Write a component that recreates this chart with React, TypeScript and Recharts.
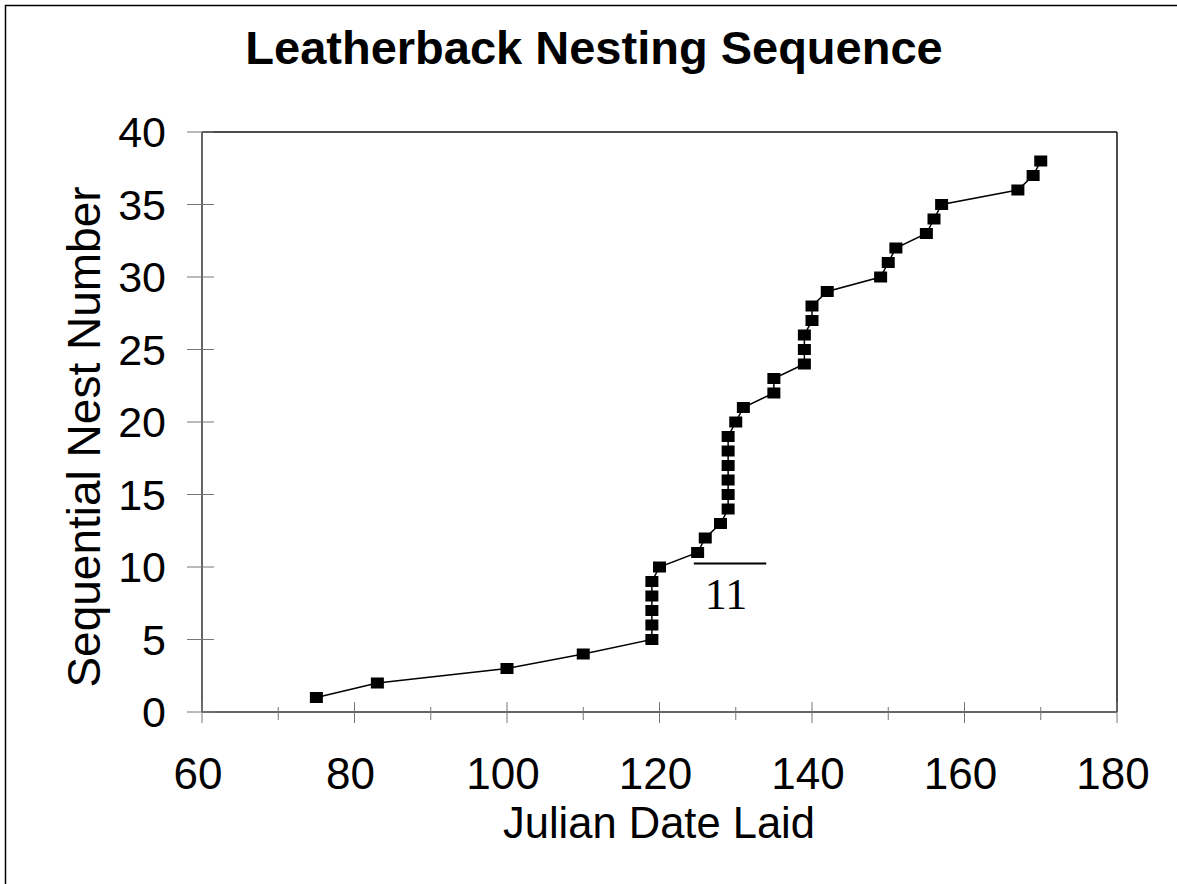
import React from 'react';
import { ScatterChart, Scatter, XAxis, YAxis, ReferenceLine } from 'recharts';

// Julian date each nest was laid, in nesting order
const julianDates = [
  75, 83, 100, 110, 119, 119, 119, 119, 119, 120,
  125, 126, 128, 129, 129, 129, 129, 129, 129, 130,
  131, 135, 135, 139, 139, 139, 140, 140, 142, 149,
  150, 151, 155, 156, 157, 167, 169, 170,
];

const nestNumbers = [
  1, 2, 3, 4, 5, 6, 7, 8, 9, 10,
  11, 12, 13, 14, 15, 16, 17, 18, 19, 20,
  21, 22, 23, 24, 25, 26, 27, 28, 29, 30,
  31, 32, 33, 34, 35, 36, 37, 38,
];

const xTicks = [60, 70, 80, 90, 100, 110, 120, 130, 140, 150, 160, 170, 180];
const yTicks = [0, 5, 10, 15, 20, 25, 30, 35, 40];

const FONT = '"Liberation Sans", Arial, sans-serif';

const data = julianDates.map((day, i) => ({ day, nest: nestNumbers[i] }));

const XTick = ({ x, y, payload }: any) => {
  const major = payload.value % 20 === 0;
  return (
    <g>
      <line x1={x} x2={x} y1={y - (major ? 10 : 5)} y2={y + (major ? 11 : 8)} stroke="#777" strokeWidth={1} />
      {major && (
        <text x={x - 4} y={y + 77} textAnchor="middle" fontSize={44} fontFamily={FONT} fill="#000">
          {payload.value}
        </text>
      )}
    </g>
  );
};

const YTick = ({ x, y, payload }: any) => (
  <g>
    <line x1={x - 15} x2={x + 12} y1={y} y2={y} stroke="#777" strokeWidth={1} />
    <text x={x - 36} y={y + 15} textAnchor="end" fontSize={43} fontFamily={FONT} fill="#000">
      {payload.value}
    </text>
  </g>
);

const SquareMarker = ({ cx, cy }: any) => (
  <rect x={cx - 6.5} y={cy - 5.5} width={13} height={11} fill="#000" />
);

const App: React.FC = () => {
  return (
    <div style={{ position: 'absolute', left: 0, top: 0, width: 1177, height: 884, background: '#fff', overflow: 'hidden' }}>
      <ScatterChart width={1177} height={884} margin={{ top: 132, right: 60, bottom: 0, left: 0 }}>
        <XAxis
          type="number"
          dataKey="day"
          domain={[60, 180]}
          ticks={xTicks}
          interval={0}
          height={172}
          tickSize={0}
          tickMargin={0}
          tickLine={false}
          axisLine={{ stroke: '#333', strokeWidth: 1.5 }}
          tick={<XTick />}
        />
        <YAxis
          type="number"
          dataKey="nest"
          domain={[0, 40]}
          ticks={yTicks}
          interval={0}
          width={202}
          tickSize={0}
          tickMargin={0}
          tickLine={false}
          axisLine={{ stroke: '#333', strokeWidth: 1.5 }}
          tick={<YTick />}
        />
        <ReferenceLine y={40} stroke="#111" strokeWidth={1.5} />
        <ReferenceLine x={180} stroke="#111" strokeWidth={1.5} />
        <ReferenceLine
          segment={[{ x: 124.5, y: 10.25 }, { x: 134, y: 10.25 }]}
          stroke="#000"
          strokeWidth={2}
        />
        <Scatter
          data={data}
          line={{ stroke: '#000', strokeWidth: 1.5 }}
          lineType="joint"
          shape={<SquareMarker />}
          isAnimationActive={false}
        />
      </ScatterChart>
      <svg width={1177} height={884} style={{ position: 'absolute', left: 0, top: 0, pointerEvents: 'none' }}>
        <rect x={5.5} y={5.5} width={1200} height={1200} fill="none" stroke="#000" strokeWidth={1.5} />
        <text x={594} y={64} textAnchor="middle" fontSize={47} fontWeight="bold" fontFamily={FONT} fill="#000">
          Leatherback Nesting Sequence
        </text>
        <text x={659} y={838} textAnchor="middle" fontSize={43.5} fontFamily={FONT} fill="#000">
          Julian Date Laid
        </text>
        <text
          x={100}
          y={437}
          textAnchor="middle"
          fontSize={46}
          fontFamily={FONT}
          fill="#000"
          transform="rotate(-90 100 437)"
        >
          Sequential Nest Number
        </text>
        <text x={726} y={609} textAnchor="middle" fontSize={44} fontFamily='"Liberation Serif", "Times New Roman", serif' fill="#000">
          11
        </text>
      </svg>
    </div>
  );
};

export default App;
